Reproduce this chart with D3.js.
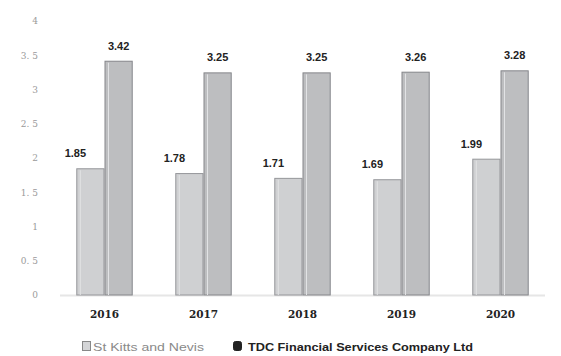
<!DOCTYPE html>
<html>
<head>
<meta charset="utf-8">
<script src="https://cdn.jsdelivr.net/npm/d3@7"></script>
<style>
  html, body { margin: 0; padding: 0; background: #fff; }
  svg { display: block; }
</style>
</head>
<body>
<svg id="chart" width="561" height="356"></svg>
<script>
// Years on the x axis and the two compared series
const years = ["2016", "2017", "2018", "2019", "2020"];
const seriesNames = ["St Kitts and Nevis", "TDC Financial Services Company Ltd"];
const stKitts = [1.85, 1.78, 1.71, 1.69, 1.99];
const tdc = [3.42, 3.25, 3.25, 3.26, 3.28];
const yTicks = [0, 0.5, 1, 1.5, 2, 2.5, 3, 3.5, 4];

const svg = d3.select("#chart");
const W = 561, H = 356;
const margin = { top: 21, right: 11, bottom: 61, left: 55 };

const x0 = d3.scaleBand().domain(years)
  .range([margin.left, W - margin.right]).paddingInner(0.43).paddingOuter(0.215);
const x1 = d3.scaleBand().domain(seriesNames).range([0, x0.bandwidth()]);
const y = d3.scaleLinear().domain([0, 4]).range([H - margin.bottom, margin.top]);

const fills = ["#cfd0d2", "#bdbec0"];
const strokes = ["#95969a", "#85868a"];

// y axis tick labels (no axis line)
const yAxis = d3.axisLeft(y).tickValues(yTicks).tickSize(0).tickPadding(0)
  .tickFormat(d => d === 0 ? "0" : (Number.isInteger(d) ? d : d.toFixed(1).replace(".", ". ")));
svg.append("g").attr("transform", `translate(${38},0)`).call(yAxis)
  .call(g => g.select(".domain").remove())
  .call(g => g.selectAll("text")
    .attr("fill", "#9a9a9a")
    .style("font-family", "'DejaVu Serif', serif")
    .style("font-size", "9px"));

// baseline
svg.append("line")
  .attr("x1", 60).attr("x2", 545)
  .attr("y1", y(0) + 0.5).attr("y2", y(0) + 0.5)
  .attr("stroke", "#e6e6e6").attr("stroke-width", 2);

const rows = years.map((yr, i) => ({ year: yr, values: [stKitts[i], tdc[i]] }));

const groups = svg.append("g").selectAll("g").data(rows).join("g")
  .attr("transform", d => `translate(${x0(d.year)},0)`);

groups.selectAll("rect").data(d => d.values.map((v, j) => ({ v, j })))
  .join("rect")
  .attr("x", d => x1(seriesNames[d.j]) + 0.5)
  .attr("y", d => y(d.v) + 0.5)
  .attr("width", x1.bandwidth() - 1)
  .attr("height", d => y(0) - y(d.v) - 0.5)
  .attr("fill", d => fills[d.j])
  .attr("stroke", d => strokes[d.j])
  .attr("stroke-width", 1);

// inner highlight lines on each bar
groups.selectAll("line.inner").data(d => d.values.map((v, j) => ({ v, j })))
  .join("line").attr("class", "inner")
  .attr("x1", d => x1(seriesNames[d.j]) + 4).attr("x2", d => x1(seriesNames[d.j]) + 4)
  .attr("y1", d => y(d.v) + 2).attr("y2", y(0))
  .attr("stroke", "#e2e3e5").attr("stroke-width", 1);

// value labels
groups.selectAll("text.val").data(d => d.values.map((v, j) => ({ v, j })))
  .join("text").attr("class", "val")
  .attr("x", d => x1(seriesNames[d.j]) + x1.bandwidth() / 2 - (d.j === 0 ? 15 : 0))
  .attr("y", d => y(d.v) - 11)
  .attr("text-anchor", "middle")
  .attr("fill", "#222")
  .style("font-family", "'Liberation Sans', Arial, sans-serif")
  .style("font-weight", "bold")
  .style("font-size", "11px")
  .text(d => d.v.toFixed(2));

// x axis year labels
const xAxis = d3.axisBottom(x0).tickSize(0).tickPadding(0);
svg.append("g").attr("transform", `translate(0,${y(0) + 23})`).call(xAxis)
  .call(g => g.select(".domain").remove())
  .call(g => g.selectAll("text")
    .attr("dy", 0)
    .attr("fill", "#222")
    .style("font-family", "'DejaVu Serif', serif")
    .style("font-weight", "bold")
    .style("font-size", "10.5px"));

// legend
const legend = svg.append("g").attr("transform", "translate(0,351)");
const legendX = [82, 233];
const legendWidths = [111, 225];
const legendColors = ["#8a8a8a", "#222"];
seriesNames.forEach((name, j) => {
  const g = legend.append("g").attr("transform", `translate(${legendX[j]},0)`);
  g.append("rect").attr("x", 0.5).attr("y", -9.5).attr("width", 8).attr("height", 9)
    .attr("rx", j === 1 ? 2 : 0)
    .attr("fill", j === 0 ? "#d4d5d7" : "#222")
    .attr("stroke", j === 0 ? "#888" : "#222");
  g.append("text").attr("x", j === 0 ? 11 : 15).attr("y", 0)
    .attr("fill", legendColors[j])
    .attr("textLength", legendWidths[j])
    .attr("lengthAdjust", "spacingAndGlyphs")
    .style("font-family", "'Liberation Sans', Arial, sans-serif")
    .style("font-weight", j === 1 ? "bold" : "normal")
    .style("font-size", "11.5px")
    .text(name);
});
</script>
</body>
</html>
